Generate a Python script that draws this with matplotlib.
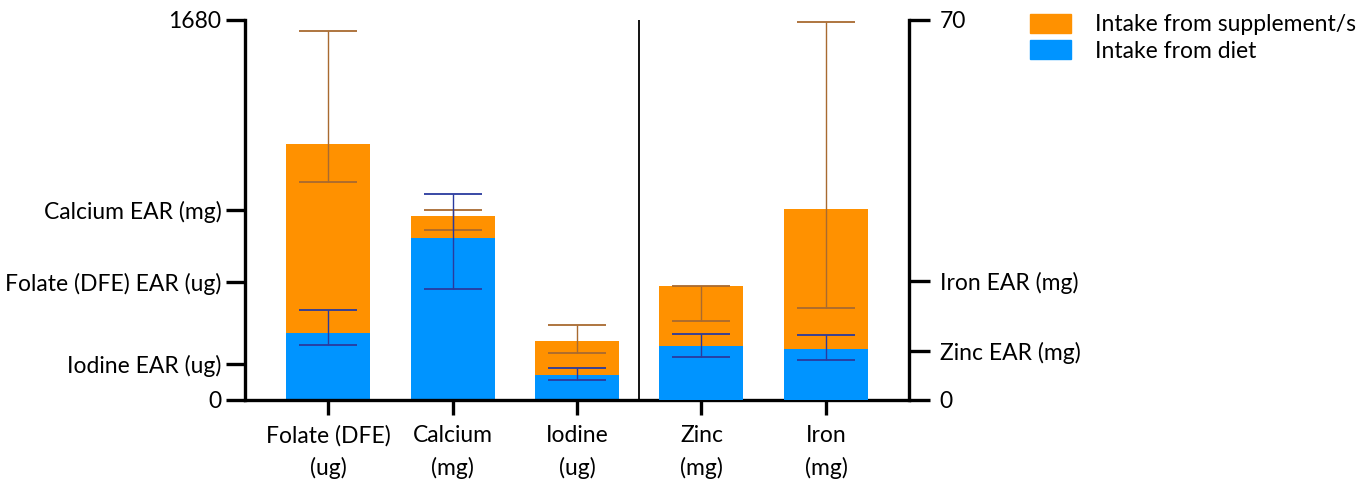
import matplotlib.pyplot as plt
from matplotlib.patches import Patch

plt.rcParams['font.family'] = ['Lato', 'DejaVu Sans']

# left-axis nutrients (ug / mg)
left_names = ['Folate (DFE)\n(ug)', 'Calcium\n(mg)', 'Iodine\n(ug)']
left_diet = [296, 718, 110]
left_total = [1132, 813, 261]
left_diet_lo = [242, 489, 88]
left_diet_hi = [397, 911, 140]
left_supp_lo = [964, 750, 206]
left_supp_hi = [1633, 840, 332]

# right-axis nutrients (mg)
right_names = ['Zinc\n(mg)', 'Iron\n(mg)']
right_diet = [9.95, 9.4]
right_total = [21.0, 35.2]
right_diet_lo = [7.9, 7.4]
right_diet_hi = [12.2, 12.0]
right_supp_lo = [14.6, 16.9]
right_supp_hi = [21.0, 69.6]

left_ticks = [0, 160, 520, 840, 1680]
left_ticklabels = ['0', 'Iodine EAR (ug)', 'Folate (DFE) EAR (ug)', 'Calcium EAR (mg)', '1680']
right_ticks = [0, 9, 22, 70]
right_ticklabels = ['0', 'Zinc EAR (mg)', 'Iron EAR (mg)', '70']

orange = '#FF9100'
blue = '#0094FF'
diet_err = '#2a3a9e'
supp_err = '#a86a30'

fig = plt.figure(figsize=(13.71, 4.83), dpi=100)
ax = fig.add_axes([245 / 1371, 1 - 400 / 483, 664 / 1371, 380 / 483])
ax2 = ax.twinx()

w = 0.675
xl = [0, 1, 2]
xr = [3, 4]


def draw(a, xs, diet, total, dlo, dhi, slo, shi):
    supp = [t - d for t, d in zip(total, diet)]
    a.bar(xs, diet, w, color=blue, zorder=2)
    a.bar(xs, supp, w, bottom=diet, color=orange, zorder=2)
    a.errorbar(xs, total, yerr=[[t - l for t, l in zip(total, slo)], [h - t for t, h in zip(total, shi)]],
               fmt='none', ecolor=supp_err, elinewidth=1.0, capsize=21, capthick=1.3, zorder=3)
    a.errorbar(xs, diet, yerr=[[d - l for d, l in zip(diet, dlo)], [h - d for d, h in zip(diet, dhi)]],
               fmt='none', ecolor=diet_err, elinewidth=1.0, capsize=21, capthick=1.3, zorder=3)


draw(ax, xl, left_diet, left_total, left_diet_lo, left_diet_hi, left_supp_lo, left_supp_hi)
draw(ax2, xr, right_diet, right_total, right_diet_lo, right_diet_hi, right_supp_lo, right_supp_hi)

ax.axvline(2.5, color='black', lw=1.3, zorder=1)

ax.set_xlim(-0.667, 4.667)
ax.set_ylim(0, 1680)
ax2.set_ylim(0, 70)

ax.set_yticks(left_ticks)
ax.set_yticklabels(left_ticklabels)
ax2.set_yticks(right_ticks)
ax2.set_yticklabels(right_ticklabels)
ax.set_xticks(xl + xr)
ax.set_xticklabels(left_names + right_names, linespacing=1.6)

for a in (ax, ax2):
    a.spines['top'].set_visible(False)
    for s in a.spines.values():
        s.set_linewidth(2.4)
    a.tick_params(width=2.4, labelsize=16.5)
ax.spines['right'].set_visible(False)
ax2.spines['left'].set_visible(False)
ax2.spines['bottom'].set_visible(False)
ax.tick_params(axis='y', length=14, pad=3)
ax2.tick_params(axis='y', length=15, pad=7)
ax.tick_params(axis='x', length=11, pad=7)

handles = [Patch(color=orange, label='Intake from supplement/s'),
           Patch(color=blue, label='Intake from diet')]
fig.legend(handles=handles, loc='upper left', bbox_to_anchor=(1021 / 1371, 1 - 5 / 483),
           frameon=False, fontsize=16.5, handlelength=1.8, handleheight=0.88,
           labelspacing=0.22, handletextpad=1.05, borderaxespad=0)

fig.savefig('out.png', dpi=100)
